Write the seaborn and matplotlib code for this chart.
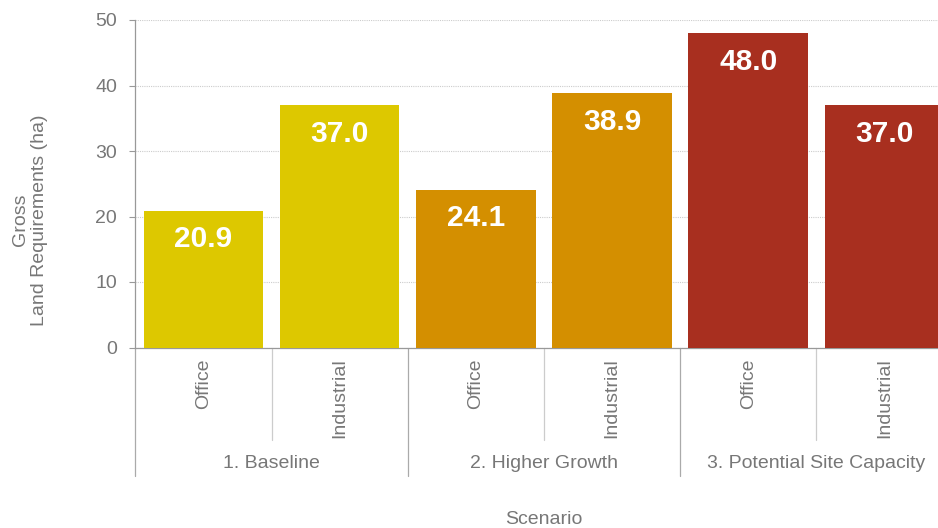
import matplotlib
matplotlib.use("Agg")
import matplotlib.pyplot as plt
import matplotlib.transforms as mtransforms
import seaborn as sns
import pandas as pd

scenarios = ["1. Baseline", "1. Baseline", "2. Higher Growth", "2. Higher Growth",
             "3. Potential Site Capacity", "3. Potential Site Capacity"]
types = ["Office", "Industrial", "Office", "Industrial", "Office", "Industrial"]
values = [20.9, 37.0, 24.1, 38.9, 48.0, 37.0]
group_names = ["1. Baseline", "2. Higher Growth", "3. Potential Site Capacity"]
colors = ["#DDC800", "#D48F00", "#A82F1F"]
yticks = [0, 10, 20, 30, 40, 50]

sns.set_theme(style="white")
plt.rcParams['font.family'] = ['Liberation Sans', 'DejaVu Sans']

df = pd.DataFrame({
    "slot": [f"{s}|{t}" for s, t in zip(scenarios, types)],
    "Scenario": scenarios,
    "Type": types,
    "value": values,
})

fig = plt.figure(figsize=(9.38, 5.28), dpi=100)
W, H = 938, 528
ax_left, ax_right = 135.3, 952.5
ax_top, ax_bot = 20.0, 347.5
ax = fig.add_axes([ax_left / W, 1 - ax_bot / H, (ax_right - ax_left) / W, (ax_bot - ax_top) / H])

sns.barplot(data=df, x="slot", y="value", hue="Scenario", palette=colors,
            hue_order=group_names, order=list(df["slot"]), dodge=False,
            width=0.877, saturation=1, legend=False, ax=ax, zorder=3, linewidth=0)

fs = 14
grey_txt = "#777777"
ax.set_ylim(0, 50)
ax.set_xlim(-0.5, 5.5)
ax.set_yticks(yticks)
ax.set_yticklabels([str(v) for v in yticks], fontsize=fs, color=grey_txt)
ax.tick_params(axis="y", left=True, length=4, width=0.8, color="#999999", pad=9)
ax.tick_params(axis="x", bottom=False, length=0, pad=8)
ax.set_xticks(range(6))
ax.set_xticklabels(types, rotation=90, fontsize=fs, color=grey_txt, va="top")
ax.set_xlabel("")
ax.set_ylabel("")
ax.yaxis.grid(True, linestyle=(0, (1, 1)), color="#cccccc", linewidth=0.8, zorder=0)
ax.xaxis.grid(False)
for s in ["top", "right"]:
    ax.spines[s].set_visible(False)
for s in ["left", "bottom"]:
    ax.spines[s].set_color("#999999")
    ax.spines[s].set_linewidth(0.9)

# value labels
for i, v in enumerate(values):
    ax.text(i, v - 4.4, f"{v:.1f}", ha="center", va="center", color="white",
            fontsize=21.5, fontweight="bold", zorder=5)

trans = mtransforms.blended_transform_factory(ax.transData, ax.transAxes)
pxh = ax_bot - ax_top
short_y = -(440 - ax_bot) / pxh
long_y = -(476 - ax_bot) / pxh
for xpos in [0.5, 2.5, 4.5]:
    ax.plot([xpos, xpos], [0, short_y], transform=trans, color="#cccccc",
            linewidth=0.9, clip_on=False)
for xpos in [-0.5, 1.5, 3.5, 5.5]:
    ax.plot([xpos, xpos], [0, long_y], transform=trans, color="#aaaaaa",
            linewidth=0.9, clip_on=False)

label_y = -(464 - ax_bot) / pxh
for gi, name in enumerate(group_names):
    ax.text(gi * 2 + 0.5, label_y, name, transform=trans, ha="center", va="center",
            fontsize=fs, color=grey_txt)

ax.text(0.5, -(519 - ax_bot) / pxh, "Scenario", transform=ax.transAxes,
        ha="center", va="center", fontsize=fs, color=grey_txt)

fig.text(30 / W, 1 - 220 / H, "Gross\nLand Requirements (ha)", rotation=90,
         ha="center", va="center", fontsize=fs, color=grey_txt, multialignment="center")

fig.savefig("out.png", dpi=100)
